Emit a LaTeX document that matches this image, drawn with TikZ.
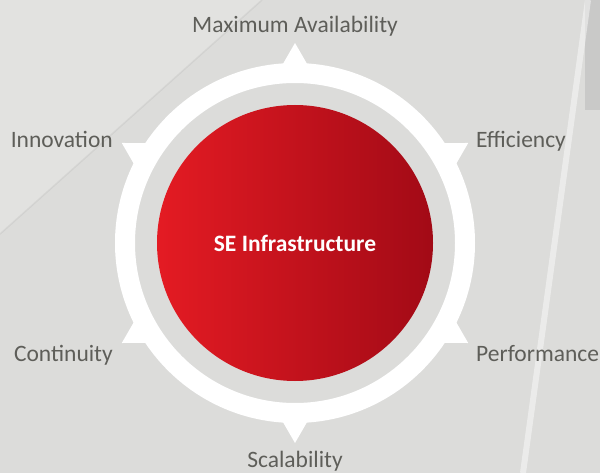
\documentclass[tikz,border=0pt]{standalone}
\usepackage{fontspec}
\setmainfont{Carlito}
\usepackage{tikz}
\usetikzlibrary{calc}
\definecolor{textgray}{HTML}{5E5E59}
\definecolor{redleft}{HTML}{E41B23}
\definecolor{redright}{HTML}{A20A16}
\definecolor{concrete}{HTML}{DCDCDA}

\begin{document}
\begin{tikzpicture}[x=1pt, y=-1pt,
  feature/.style={font=\fontsize{23.5}{28}\selectfont, text=textgray, inner sep=0pt},
  pointer/.style={fill=white},
  hub/.style={circle, minimum size=276pt, inner sep=0pt, left color=redleft, right color=redright, text=white, font=\fontsize{23.5}{28}\selectfont\bfseries}]
\useasboundingbox (0,0) rectangle (600,473);

% Background
\fill[concrete] (0,0) rectangle (600,473);
\fill[white, opacity=0.18] (0,0) -- (262,0) -- (0,234) -- cycle;
\draw[gray, opacity=0.12, line width=1.5pt] (262,0) -- (0,234);
\fill[gray, opacity=0.2] (585,0) rectangle (600,110);
\draw[white, opacity=0.45, line width=6pt] (588,0) -- (523,473);

% Ring with pointers
\coordinate (c) at (295,243);
\draw[white, line width=20pt] (c) circle[radius=170];
\foreach \a in {30,90,150,210,270,330} {
    \fill[pointer] ($(c)+(\a:200)$) -- ($(c)+(\a:170)+(\a+90:17.3)$) -- ($(c)+(\a:170)+(\a-90:17.3)$) -- cycle;
}

% Core
\node[hub] (core) at (c) {SE Infrastructure};

% Labels
\node[feature, anchor=base] (avail) at (295,33) {Maximum Availability};
\node[feature, anchor=base east] (innov) at (113,148) {Innovation};
\node[feature, anchor=base west] (effic) at (476,148) {Efficiency};
\node[feature, anchor=base east] (contin) at (113,361) {Continuity};
\node[feature, anchor=base west] (perf) at (476,361) {Performance};
\node[feature, anchor=base] (scal) at (295,467) {Scalability};
\end{tikzpicture}
\end{document}
